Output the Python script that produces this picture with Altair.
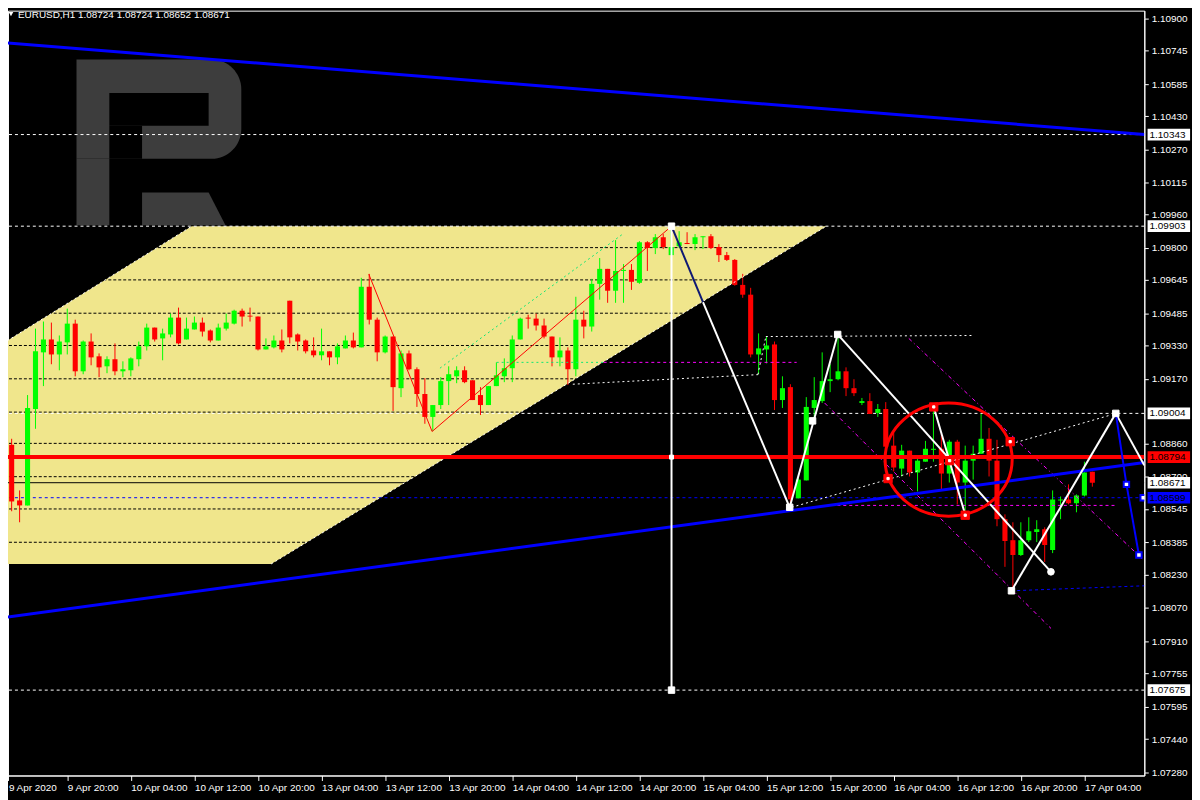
import altair as alt
import pandas as pd

# ---------------- data (hourly bars; bar index 0 = 9 Apr 20:00) ----------------
FIRST_BAR = -8
OPEN = [1.08672, 1.08853, 1.08586, 1.08562, 1.09025, 1.09297, 1.09359, 1.09287,
        1.09345, 1.09435, 1.09206, 1.09349, 1.09278, 1.09230, 1.09264, 1.09206,
        1.09211, 1.09264, 1.09326, 1.09416, 1.09364, 1.09383, 1.09464, 1.09359,
        1.09407, 1.09440, 1.09402, 1.09354, 1.09411, 1.09435, 1.09497, 1.09473,
        1.09469, 1.09311, 1.09321, 1.09354, 1.09545, 1.09383, 1.09354, 1.09306,
        1.09283, 1.09302, 1.09273, 1.09316, 1.09354, 1.09321, 1.09612, 1.09454,
        1.09297, 1.09373, 1.09125, 1.09292, 1.09216, 1.09097, 1.08987, 1.09044,
        1.09159, 1.09182, 1.09211, 1.09163, 1.09092, 1.09044, 1.09135, 1.09182,
        1.09221, 1.09359, 1.09464, 1.09459, 1.09426, 1.09373, 1.09273, 1.09306,
        1.09216, 1.09454, 1.09421, 1.09626, 1.09698, 1.09593, 1.09688, 1.09693,
        1.09631, 1.09826, 1.09798, 1.09850, 1.09764, 1.09807, 1.09822, 1.09817,
        1.09850, 1.09855, 1.09803, 1.09764, 1.09741, 1.09621, 1.09574, 1.09287,
        1.09311, 1.09335, 1.09068, 1.09130, 1.08596, 1.08682, 1.09030, 1.09063,
        1.09159, 1.09168, 1.09206, 1.09125, 1.09054, 1.09063, 1.09006, 1.09025,
        1.08849, 1.08739, 1.08825, 1.08720, 1.08772, 1.08829, 1.08834, 1.08715,
        1.08868, 1.08672, 1.08777, 1.08810, 1.08882, 1.08777, 1.08496, 1.08395,
        1.08324, 1.08395, 1.08434, 1.08448, 1.08348, 1.08586, 1.08591, 1.08572,
        1.08610, 1.08724]
HIGH = [1.08872, 1.08882, 1.08634, 1.09092, 1.09411, 1.09445, 1.09440, 1.09378,
        1.09507, 1.09454, 1.09354, 1.09388, 1.09292, 1.09278, 1.09340, 1.09254,
        1.09273, 1.09349, 1.09435, 1.09416, 1.09411, 1.09483, 1.09512, 1.09464,
        1.09469, 1.09464, 1.09407, 1.09435, 1.09483, 1.09502, 1.09507, 1.09512,
        1.09469, 1.09364, 1.09378, 1.09407, 1.09545, 1.09388, 1.09359, 1.09369,
        1.09411, 1.09302, 1.09340, 1.09378, 1.09392, 1.09655, 1.09674, 1.09464,
        1.09378, 1.09373, 1.09306, 1.09306, 1.09225, 1.09173, 1.09044, 1.09178,
        1.09230, 1.09230, 1.09230, 1.09163, 1.09130, 1.09135, 1.09249, 1.09268,
        1.09378, 1.09464, 1.09478, 1.09483, 1.09459, 1.09373, 1.09369, 1.09321,
        1.09564, 1.09497, 1.09650, 1.09750, 1.09698, 1.09836, 1.09721, 1.09721,
        1.09831, 1.09831, 1.09865, 1.09865, 1.09903, 1.09879, 1.09874, 1.09865,
        1.09855, 1.09865, 1.09817, 1.09779, 1.09745, 1.09674, 1.09607, 1.09388,
        1.09373, 1.09349, 1.09182, 1.09144, 1.08696, 1.09082, 1.09178, 1.09297,
        1.09240, 1.09383, 1.09225, 1.09168, 1.09078, 1.09101, 1.09049, 1.09058,
        1.08911, 1.08853, 1.08825, 1.08796, 1.08872, 1.09044, 1.08911, 1.08877,
        1.08877, 1.08849, 1.08849, 1.09001, 1.08934, 1.08877, 1.08519, 1.08481,
        1.08481, 1.08505, 1.08491, 1.08457, 1.08634, 1.08605, 1.08663, 1.08615,
        1.08772, 1.08724]
LOW = [1.08648, 1.08534, 1.08481, 1.08562, 1.08930, 1.09135, 1.09240, 1.09211,
       1.09287, 1.09182, 1.09192, 1.09235, 1.09178, 1.09197, 1.09187, 1.09178,
       1.09182, 1.09230, 1.09306, 1.09349, 1.09259, 1.09369, 1.09335, 1.09359,
       1.09407, 1.09373, 1.09345, 1.09354, 1.09402, 1.09431, 1.09421, 1.09445,
       1.09306, 1.09311, 1.09316, 1.09297, 1.09340, 1.09306, 1.09292, 1.09273,
       1.09259, 1.09235, 1.09240, 1.09316, 1.09316, 1.09321, 1.09431, 1.09254,
       1.09292, 1.09016, 1.09082, 1.09211, 1.09035, 1.08954, 1.08920, 1.09025,
       1.09044, 1.09149, 1.09149, 1.09068, 1.08996, 1.09044, 1.09135, 1.09154,
       1.09154, 1.09359, 1.09411, 1.09402, 1.09364, 1.09230, 1.09230, 1.09140,
       1.09182, 1.09364, 1.09397, 1.09550, 1.09535, 1.09535, 1.09535, 1.09597,
       1.09626, 1.09688, 1.09769, 1.09793, 1.09764, 1.09798, 1.09817, 1.09788,
       1.09793, 1.09793, 1.09731, 1.09736, 1.09617, 1.09559, 1.09273, 1.09192,
       1.09244, 1.09020, 1.09030, 1.08543, 1.08596, 1.08682, 1.08987, 1.09054,
       1.09106, 1.09163, 1.09087, 1.09087, 1.09044, 1.09001, 1.08987, 1.08725,
       1.08725, 1.08701, 1.08701, 1.08629, 1.08772, 1.08772, 1.08639, 1.08672,
       1.08567, 1.08519, 1.08686, 1.08810, 1.08701, 1.08462, 1.08267, 1.08152,
       1.08319, 1.08386, 1.08386, 1.08290, 1.08333, 1.08496, 1.08567, 1.08529,
       1.08605, 1.08652]
CLOSE = [1.08863, 1.08581, 1.08562, 1.09030, 1.09302, 1.09359, 1.09287, 1.09349,
         1.09435, 1.09206, 1.09349, 1.09273, 1.09225, 1.09264, 1.09206, 1.09216,
         1.09268, 1.09326, 1.09416, 1.09359, 1.09388, 1.09464, 1.09340, 1.09411,
         1.09440, 1.09397, 1.09354, 1.09416, 1.09440, 1.09497, 1.09469, 1.09469,
         1.09311, 1.09326, 1.09354, 1.09311, 1.09369, 1.09349, 1.09302, 1.09283,
         1.09302, 1.09273, 1.09326, 1.09354, 1.09321, 1.09612, 1.09454, 1.09297,
         1.09373, 1.09130, 1.09292, 1.09216, 1.09097, 1.08987, 1.09044, 1.09159,
         1.09192, 1.09211, 1.09154, 1.09068, 1.09044, 1.09135, 1.09187, 1.09221,
         1.09359, 1.09459, 1.09459, 1.09426, 1.09373, 1.09273, 1.09306, 1.09216,
         1.09454, 1.09421, 1.09626, 1.09698, 1.09593, 1.09688, 1.09693, 1.09636,
         1.09826, 1.09798, 1.09850, 1.09803, 1.09803, 1.09826, 1.09817, 1.09850,
         1.09855, 1.09798, 1.09764, 1.09741, 1.09621, 1.09574, 1.09287, 1.09316,
         1.09330, 1.09068, 1.09125, 1.08591, 1.08686, 1.09035, 1.09068, 1.09159,
         1.09168, 1.09206, 1.09125, 1.09101, 1.09063, 1.09001, 1.09025, 1.08844,
         1.08744, 1.08825, 1.08720, 1.08777, 1.08834, 1.08834, 1.08715, 1.08868,
         1.08672, 1.08777, 1.08810, 1.08882, 1.08777, 1.08496, 1.08391, 1.08324,
         1.08395, 1.08438, 1.08448, 1.08372, 1.08591, 1.08591, 1.08572, 1.08610,
         1.08720, 1.08671]

FIRST_LABEL = "9 Apr 2020"
TIME_TICKS = [0, 8, 16, 24, 32, 40, 48, 56, 64, 72, 80, 88, 96, 104, 112, 120, 128]
TIME_LABELS = ["9 Apr 20:00", "10 Apr 04:00", "10 Apr 12:00", "10 Apr 20:00",
               "13 Apr 04:00", "13 Apr 12:00", "13 Apr 20:00", "14 Apr 04:00",
               "14 Apr 12:00", "14 Apr 20:00", "15 Apr 04:00", "15 Apr 12:00",
               "15 Apr 20:00", "16 Apr 04:00", "16 Apr 12:00", "16 Apr 20:00",
               "17 Apr 04:00"]
Y_TICKS = [1.10900, 1.10745, 1.10585, 1.10430, 1.10270, 1.10115, 1.09960, 1.09800,
           1.09645, 1.09485, 1.09330, 1.09170, 1.08860, 1.08700, 1.08545, 1.08385,
           1.08230, 1.08070, 1.07910, 1.07755, 1.07595, 1.07440, 1.07280]
TITLE = "EURUSD,H1  1.08724 1.08724 1.08652 1.08671"

# annotation objects (bar index, price)
YELLOW_X = [-8.09, 15.66, 25.66, 95.54]
YELLOW_TOP = [1.09340, 1.09903, 1.09903, 1.09903]
YELLOW_BOTTOM = [1.08281, 1.08281, 1.08281, 1.09903]

WHITE_LEVELS = [1.10343, 1.09903, 1.09004, 1.07675]
BLUE_LEVEL = [1.08599]
BID_LEVEL = [1.08671]
RED_LEVEL = [1.08794]

BLUE_TRENDS = [(-8.09, 1.10785, 135.54, 1.10343), (-8.09, 1.08023, 135.54, 1.08768)]
BLUE_FORECAST = [(131.95, 1.09004, 133.29, 1.08663), (133.29, 1.08663, 134.86, 1.08324)]
BLUE_DASHED = [(118.79, 1.08152, 135.54, 1.08176)]
NAVY_SEG = [(76.04, 1.09903, 80.0, 1.09538)]
WHITE_ZIGZAG = [(80.0, 1.09538, 90.91, 1.08553), (90.91, 1.08553, 96.95, 1.09383),
                (96.95, 1.09383, 123.79, 1.08243), (109.04, 1.09035, 113.0, 1.08517),
                (118.82, 1.08152, 131.95, 1.09004), (131.95, 1.09004, 135.54, 1.08755),
                (76.04, 1.09903, 76.04, 1.07675)]
RED_ZIGZAG = [(37.95, 1.09672, 45.91, 1.08917), (45.91, 1.08917, 76.04, 1.09903)]
WHITE_DASHED = [(91.16, 1.08553, 131.3, 1.08996), (63.62, 1.09144, 86.91, 1.09190),
                (86.91, 1.09190, 87.91, 1.09373), (87.91, 1.09373, 113.79, 1.09378),
                (-8.09, 1.09340, 15.66, 1.09903), (25.66, 1.08281, 95.54, 1.09903)]
GREEN_DASHED = [(46.9, 1.09221, 69.9, 1.09865), (54.04, 1.09249, 67.5, 1.09249)]
MAGENTA_DASHED = [(67.5, 1.09249, 91.79, 1.09249), (96.16, 1.08562, 131.9, 1.08562)]
MAGENTA_DASHDOT = [(105.9, 1.09364, 135.3, 1.08305), (95.3, 1.09054, 123.8, 1.07971)]

WHITE_SQUARES = [(76.04, 1.09903), (76.04, 1.07675), (90.91, 1.08553), (93.79, 1.08968),
                 (96.95, 1.09383), (118.82, 1.08152), (131.95, 1.09004)]
WHITE_SMALL = [(76.04, 1.08794)]
WHITE_CIRCLES = [(123.79, 1.08243)]
RED_SQUARES = [(109.04, 1.09035), (118.66, 1.08868), (103.29, 1.08691),
               (113.0, 1.08515), (111.04, 1.08777)]
BLUE_SQUARES = [(133.29, 1.08663), (134.86, 1.08324), (135.4, 1.08599)]
ELLIPSE = [(110.91, 1.08782)]

BOX_PRICES = [1.10343, 1.09903, 1.09004, 1.08794, 1.08671, 1.08599, 1.07675]
BOX_COLORS = ["#FFFFFF", "#FFFFFF", "#FFFFFF", "#FF0000", "#FFFFFF", "#0000FF", "#FFFFFF"]

# logo watermark (bar index, price)
LOGO_BOWL = [(1.16, 21.9, 1.10704, 1.10227)]
LOGO_HOLES = [(5.29, 17.79, 1.10542, 1.10385), (5.29, 9.41, 1.10385, 1.10227)]
LOGO_STEM = [(1.16, 5.29, 1.10227, 1.09908)]
LOGO_LEG_X = [9.41, 17.79, 19.91]
LOGO_LEG_TOP = [1.10065, 1.10065, 1.09908]
LOGO_LEG_BOTTOM = [1.09908, 1.09908, 1.09908]

# ---------------- scales / axes ----------------
X_MIN, X_MAX = -7.46, 135.54
Y_MIN, Y_MAX = 1.07265, 1.10938
FONT = "Liberation Sans"
GREEN, RED = "#00FF00", "#FF0000"

XS = alt.Scale(domain=[X_MIN, X_MAX], nice=False, zero=False)
YS = alt.Scale(domain=[Y_MIN, Y_MAX], nice=False, zero=False)
arr = "[" + ",".join("'" + s + "'" for s in TIME_LABELS) + "]"
label_expr = f"datum.value < 0 ? '{FIRST_LABEL}' : {arr}[round(datum.value / 8)]"
X_AXIS = alt.Axis(values=[X_MIN + 0.05] + TIME_TICKS, labelExpr=label_expr, title=None,
                  orient="bottom", grid=False, labelAlign="left", labelBaseline="top",
                  labelPadding=2, tickSize=5, labelFlush=False, labelOverlap=False,
                  labelBound=False)
Y_AXIS = alt.Axis(values=Y_TICKS, format=".5f", title=None, orient="right", grid=False,
                  labelAlign="left", labelBaseline="middle", labelPadding=3, tickSize=4,
                  labelFlush=False, labelOverlap=False, labelBound=False)


def X(f):
    return alt.X(f, type="quantitative", scale=XS, axis=X_AXIS)


def Y(f):
    return alt.Y(f, type="quantitative", scale=YS, axis=Y_AXIS)


def seg_layer(segs, color, width, dash=None):
    d = pd.DataFrame(segs, columns=["x1", "y1", "x2", "y2"])
    kw = dict(color=color, strokeWidth=width, clip=True, opacity=1)
    if dash:
        kw["strokeDash"] = dash
    return alt.Chart(d).mark_rule(**kw).encode(x=X("x1"), y=Y("y1"), x2="x2", y2="y2")


def level_layer(levels, color, width, dash=None):
    d = pd.DataFrame({"p": levels})
    kw = dict(color=color, strokeWidth=width, clip=True, opacity=1)
    if dash:
        kw["strokeDash"] = dash
    return alt.Chart(d).mark_rule(**kw).encode(y=Y("p"))


def point_layer(pts, shape, size, fill, stroke=None, sw=1):
    d = pd.DataFrame(pts, columns=["x", "y"])
    return alt.Chart(d).mark_point(shape=shape, size=size, filled=True, fill=fill,
                                   stroke=stroke or fill, strokeWidth=sw, opacity=1,
                                   fillOpacity=1, clip=True).encode(x=X("x"), y=Y("y"))


def rect_layer(rects, color, **kw):
    d = pd.DataFrame(rects, columns=["x1", "x2", "y1", "y2"])
    return alt.Chart(d).mark_rect(color=color, opacity=1, **kw).encode(
        x=X("x1"), x2="x2", y=Y("y1"), y2="y2")


# ---------------- layers ----------------
yellow = alt.Chart(pd.DataFrame({"x": YELLOW_X, "t": YELLOW_TOP, "b": YELLOW_BOTTOM})).mark_area(
    color="#F0E68C", opacity=1, clip=True).encode(x=X("x"), y=Y("t"), y2="b")

grid = level_layer(Y_TICKS + [1.09010], "#000000", 1, [3, 2])

logo_color = "#3d3d3d"
logo = [
    rect_layer(LOGO_BOWL, logo_color, cornerRadiusTopRight=30, cornerRadiusBottomRight=30),
    rect_layer(LOGO_HOLES, "#000000"),
    rect_layer(LOGO_STEM, logo_color),
    alt.Chart(pd.DataFrame({"x": LOGO_LEG_X, "t": LOGO_LEG_TOP, "b": LOGO_LEG_BOTTOM})).mark_area(
        color=logo_color, opacity=1).encode(x=X("x"), y=Y("t"), y2="b"),
]

levels = [
    level_layer(WHITE_LEVELS, "#FFFFFF", 1, [3, 3]),
    level_layer(BLUE_LEVEL, "#0000FF", 1, [3, 3]),
    level_layer(BID_LEVEL, "#000000", 1),
]

cdf = pd.DataFrame({"i": list(range(FIRST_BAR, FIRST_BAR + len(OPEN))),
                    "open": OPEN, "high": HIGH, "low": LOW, "close": CLOSE})
cdf["dir"] = ["up" if c >= o else "down" for o, c in zip(OPEN, CLOSE)]
cdf["left"] = cdf["i"] - 0.32
cdf["right"] = cdf["i"] + 0.32
ccol = alt.Color("dir:N", scale=alt.Scale(domain=["up", "down"], range=[GREEN, RED]), legend=None)
wicks = alt.Chart(cdf).mark_rule(strokeWidth=1, clip=True, opacity=1).encode(
    x=X("i"), y=Y("low"), y2="high", color=ccol)
bodies = alt.Chart(cdf).mark_rect(clip=True, opacity=1).encode(
    x=X("left"), x2="right", y=Y("open"), y2="close", color=ccol)

lines = [
    seg_layer(WHITE_DASHED, "#FFFFFF", 1, [2, 3]),
    seg_layer(GREEN_DASHED, "#0FE673", 1, [2, 3]),
    seg_layer(MAGENTA_DASHED, "#FF00FF", 1, [3, 3]),
    seg_layer(MAGENTA_DASHDOT, "#FF00FF", 1, [4, 3, 1, 3]),
    seg_layer(RED_ZIGZAG, "#FF0000", 1),
    level_layer(RED_LEVEL, "#FF0000", 4),
    seg_layer(BLUE_TRENDS, "#0000FF", 3),
    seg_layer(BLUE_DASHED, "#0000FF", 1, [3, 3]),
    seg_layer(WHITE_ZIGZAG, "#FFFFFF", 2),
    seg_layer(NAVY_SEG, "#0F1973", 2),
    seg_layer(BLUE_FORECAST, "#0000FF", 2),
]

ELLIPSE_PATH = "M -1 0 A 1 0.89 0 1 1 1 0 A 1 0.89 0 1 1 -1 0 Z"
ellipse = alt.Chart(pd.DataFrame(ELLIPSE, columns=["x", "y"])).mark_point(
    shape=ELLIPSE_PATH, size=16384, filled=False, color="#FF0000", strokeWidth=3,
    opacity=1, clip=True).encode(x=X("x"), y=Y("y"))

markers = [
    point_layer(WHITE_SQUARES, "square", 42, "#FFFFFF"),
    point_layer(WHITE_SMALL, "square", 16, "#FFFFFF"),
    point_layer(WHITE_CIRCLES, "circle", 45, "#FFFFFF"),
    point_layer(RED_SQUARES, "square", 70, "#FF0000"),
    point_layer(RED_SQUARES, "square", 5, "#FFFFFF"),
    point_layer(BLUE_SQUARES, "square", 30, "#FFFFFF", "#0000FF", 2),
]

bdf = pd.DataFrame({"p": BOX_PRICES, "c": BOX_COLORS})
bdf["top"] = bdf["p"] + 0.00028
bdf["bot"] = bdf["p"] - 0.00028
bdf["x1"] = 135.95
bdf["x2"] = 141.3
bdf["tx"] = 136.2
bdf["label"] = [f"{v:.5f}" for v in BOX_PRICES]
boxes = alt.Chart(bdf).mark_rect(opacity=1).encode(
    x=X("x1"), x2="x2", y=Y("top"), y2="bot", color=alt.Color("c:N", scale=None))
box_text = alt.Chart(bdf).mark_text(align="left", baseline="middle", color="#000000",
                                    font=FONT, fontSize=10).encode(
    x=X("tx"), y=Y("p"), text="label:N")

title_tri = alt.Chart(pd.DataFrame({"t": [1]})).mark_point(
    shape="triangle-down", size=22, filled=True, color="#FFFFFF", opacity=1).encode(
    x=alt.value(3), y=alt.value(3.5))
title_text = alt.Chart(pd.DataFrame({"t": [TITLE]})).mark_text(
    align="left", baseline="top", color="#FFFFFF", font=FONT, fontSize=10).encode(
    x=alt.value(10), y=alt.value(-1), text="t:N")

chart = alt.layer(
    yellow, grid, *logo, *levels, wicks, bodies, *lines, ellipse, *markers,
    boxes, box_text, title_tri, title_text
).properties(
    width=1144, height=770,
    autosize=alt.AutoSizeParams(type="none"),
    padding={"left": 0, "top": 0, "right": 48, "bottom": 22},
).configure(background="#000000").configure_view(
    stroke="#FFFFFF", strokeWidth=1
).configure_axis(
    labelColor="#FFFFFF", labelFont=FONT, labelFontSize=10, tickColor="#FFFFFF",
    domainColor="#FFFFFF", domainWidth=1, tickWidth=1
)

chart.save("out.html", embed_options={"renderer": "svg", "actions": False})
